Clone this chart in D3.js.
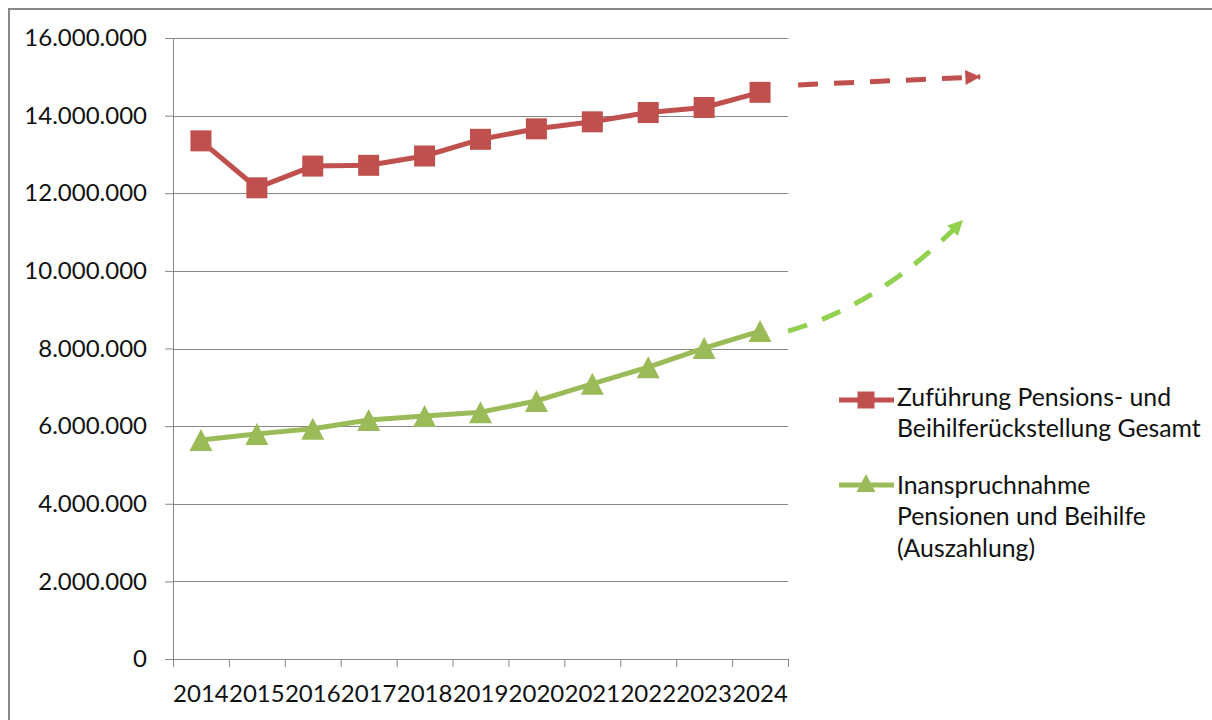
<!DOCTYPE html>
<html>
<head>
<meta charset="utf-8">
<script src="https://cdn.jsdelivr.net/npm/d3@7"></script>
<style>
  html, body { margin: 0; padding: 0; background: #fff; }
  svg { display: block; }
  text { font-family: Lato, "Liberation Sans", sans-serif; fill: #111; }
</style>
</head>
<body>
<svg id="chart" width="1212" height="720"></svg>
<script>
// Jahre (Kategorien)
const years = ["2014", "2015", "2016", "2017", "2018", "2019", "2020", "2021", "2022", "2023", "2024"];

// Zuführung Pensions- und Beihilferückstellung Gesamt
const zufuehrung = [13350000, 12140000, 12700000, 12720000, 12960000, 13390000, 13660000, 13840000, 14080000, 14210000, 14600000];

// Inanspruchnahme Pensionen und Beihilfe (Auszahlung)
const inanspruchnahme = [5640000, 5800000, 5930000, 6160000, 6260000, 6360000, 6650000, 7090000, 7520000, 8010000, 8450000];

// Achsenbeschriftung Y
const yTicks = [0, 2000000, 4000000, 6000000, 8000000, 10000000, 12000000, 14000000, 16000000];

// Trendpfeile (Position in Kategorie-Einheiten, Wert)
const trendZufuehrung = [[11.18, 14790000], [14.44, 15000000]];
const trendInanspruchnahme = [[11.0, 8450000], [12.65, 9120000], [14.13, 11310000]];

const legendLabels = [
  ["Zuführung Pensions- und", "Beihilferückstellung Gesamt"],
  ["Inanspruchnahme", "Pensionen und Beihilfe", "(Auszahlung)"]
];

const RED = "#C0504D", GREEN = "#9BBB59", GREEN_TREND = "#92D050", GRID = "#878787";
const AXIS_FONT = 24, LEGEND_FONT = 24.8;

const svg = d3.select("#chart");
const plot = { left: 173, right: 788, top: 38, bottom: 659 };

const x = d3.scaleLinear().domain([0, years.length]).range([plot.left, plot.right]);
const y = d3.scaleLinear().domain([0, 16000000]).range([plot.bottom, plot.top]);

const de = d3.formatLocale({ decimal: ",", thousands: ".", grouping: [3], currency: ["", " €"] });
const fmt = de.format(",.0f");

// Rahmen
svg.append("path")
  .attr("d", "M9,720 V9 H1212")
  .attr("fill", "none").attr("stroke", GRID).attr("stroke-width", 2);

// Gitternetz + Y-Achse
const yAxis = d3.axisLeft(y).tickValues(yTicks).tickFormat(d => d === 0 ? "0" : fmt(d))
  .tickSize(8).tickPadding(18);
const gy = svg.append("g").attr("transform", `translate(${plot.left},0)`).call(yAxis);
gy.select(".domain").attr("stroke", GRID);
gy.selectAll(".tick line").attr("stroke", GRID);
gy.selectAll(".tick text").attr("font-size", AXIS_FONT).attr("fill", "#111")
  .attr("font-family", "Lato, 'Liberation Sans', sans-serif");

svg.append("g").selectAll("line").data(yTicks.filter(d => d > 0)).join("line")
  .attr("x1", plot.left).attr("x2", plot.right)
  .attr("y1", d => Math.round(y(d)) + 0.5).attr("y2", d => Math.round(y(d)) + 0.5)
  .attr("stroke", GRID).attr("stroke-width", 1);

// X-Achse: Teilstriche zwischen den Kategorien
const xAxis = d3.axisBottom(x).tickValues(d3.range(0, years.length + 1)).tickFormat("").tickSize(8);
const gx = svg.append("g").attr("transform", `translate(0,${plot.bottom})`).call(xAxis);
gx.select(".domain").attr("stroke", GRID);
gx.selectAll(".tick line").attr("stroke", GRID);

svg.append("g").selectAll("text").data(years).join("text")
  .attr("x", (d, i) => x(i + 0.5)).attr("y", 702)
  .attr("text-anchor", "middle").attr("font-size", AXIS_FONT)
  .text(d => d);

// Pfeilspitzen
const defs = svg.append("defs");
function arrowMarker(id, color) {
  defs.append("marker").attr("id", id)
    .attr("viewBox", "0 0 10 10").attr("refX", 10).attr("refY", 5)
    .attr("markerUnits", "userSpaceOnUse")
    .attr("markerWidth", 17).attr("markerHeight", 15)
    .attr("orient", "auto")
    .append("path").attr("d", "M0,0 L10,5 L0,10 Z").attr("fill", color);
}
arrowMarker("arrRed", RED);
arrowMarker("arrGreen", GREEN_TREND);

// Trendpfeile
const trendLine = d3.line().x(d => x(d[0])).y(d => y(d[1]));
svg.append("path").datum(trendZufuehrung)
  .attr("d", trendLine)
  .attr("fill", "none").attr("stroke", RED).attr("stroke-width", 5)
  .attr("stroke-dasharray", "20 16").attr("marker-end", "url(#arrRed)");

const tg = trendInanspruchnahme.map(d => [x(d[0]), y(d[1])]);
svg.append("path")
  .attr("d", `M${tg[0][0]},${tg[0][1]} Q${tg[1][0]},${tg[1][1]} ${tg[2][0]},${tg[2][1]}`)
  .attr("fill", "none").attr("stroke", GREEN_TREND).attr("stroke-width", 5)
  .attr("stroke-dasharray", "20 16").attr("marker-end", "url(#arrGreen)");

// Datenreihen
const line = d3.line().x((d, i) => x(i + 0.5)).y(d => y(d));
svg.append("path").datum(zufuehrung).attr("d", line)
  .attr("fill", "none").attr("stroke", RED).attr("stroke-width", 5).attr("stroke-linejoin", "round");
svg.append("path").datum(inanspruchnahme).attr("d", line)
  .attr("fill", "none").attr("stroke", GREEN).attr("stroke-width", 5).attr("stroke-linejoin", "round");

const SQ = 21;
const triPath = "M0,-11 L11.5,11 L-11.5,11 Z";

svg.append("g").selectAll("rect").data(zufuehrung).join("rect")
  .attr("x", (d, i) => x(i + 0.5) - SQ / 2).attr("y", d => y(d) - SQ / 2)
  .attr("width", SQ).attr("height", SQ).attr("fill", RED);

svg.append("g").selectAll("path").data(inanspruchnahme).join("path")
  .attr("transform", (d, i) => `translate(${x(i + 0.5)},${y(d)})`)
  .attr("d", triPath).attr("fill", GREEN);

// Legende
const lg = svg.append("g");
const legendY = [400, 485];
const textY = [[406, 437], [494, 525, 557]];
[RED, GREEN].forEach((c, k) => {
  lg.append("line").attr("x1", 839).attr("x2", 894)
    .attr("y1", legendY[k]).attr("y2", legendY[k])
    .attr("stroke", c).attr("stroke-width", 5);
  if (k === 0) {
    lg.append("rect").attr("x", 866 - 8.5).attr("y", legendY[k] - 8.5)
      .attr("width", 17).attr("height", 17).attr("fill", c);
  } else {
    lg.append("path").attr("transform", `translate(866,${legendY[k] - 2})`)
      .attr("d", "M0,-9 L9.5,9 L-9.5,9 Z").attr("fill", c);
  }
  legendLabels[k].forEach((t, j) => {
    lg.append("text").attr("x", 897).attr("y", textY[k][j])
      .attr("font-size", LEGEND_FONT).text(t);
  });
});
</script>
</body>
</html>
